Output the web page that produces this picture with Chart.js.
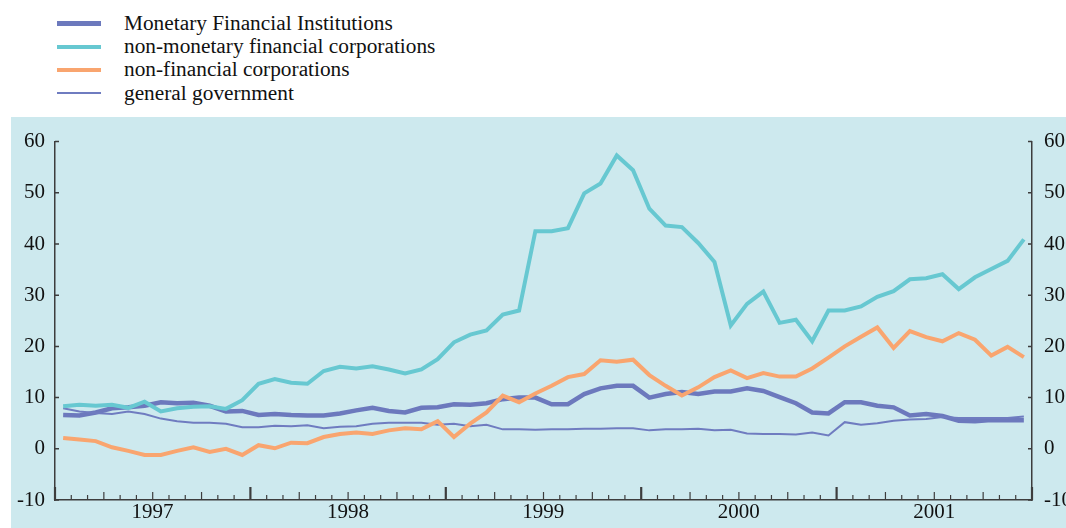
<!DOCTYPE html>
<html>
<head>
<meta charset="utf-8">
<script src="https://cdn.jsdelivr.net/npm/chart.js@4.4.1/dist/chart.umd.min.js"></script>
<style>
    body { margin: 0; background: #fff; width: 1066px; height: 528px; overflow: hidden; position: relative; font-family: "Liberation Serif", serif; }
    #panel { position: absolute; left: 11px; top: 117px; width: 1055px; height: 411px; background: #CDE9EE; }
    .key { position: absolute; left: 57px; width: 44px; }
    .lab { position: absolute; left: 124px; font-size: 20px; line-height: 24px; color: #111; white-space: nowrap; transform: scaleX(1.066); transform-origin: left center; }
</style>
</head>
<body>
<div id="legend"></div>
<div id="panel"><canvas id="growth"></canvas></div>
<script>
var years = [1997, 1998, 1999, 2000, 2001];
var months = ["01", "02", "03", "04", "05", "06", "07", "08", "09", "10", "11", "12"];
var yTicks = [-10, 0, 10, 20, 30, 40, 50, 60];

var seriesNames = [
    "Monetary Financial Institutions",
    "non-monetary financial corporations",
    "non-financial corporations",
    "general government"
];
var seriesColors = ["#6C79BD", "#67C8D1", "#F9A56F", "#6F7CC0"];
var seriesWidths = [4.5, 4, 4, 2];

var mfi = [6.6, 6.5, 7.1, 7.9, 8.1, 8.4, 9.1, 8.9, 9.0, 8.4, 7.3, 7.4,
    6.6, 6.8, 6.6, 6.5, 6.5, 6.9, 7.5, 8.0, 7.4, 7.1, 8.0, 8.1,
    8.7, 8.6, 8.9, 9.7, 10.0, 10.0, 8.7, 8.7, 10.7, 11.8, 12.3, 12.3,
    10.0, 10.7, 11.1, 10.7, 11.2, 11.2, 11.8, 11.3, 10.1, 8.9, 7.1, 6.9,
    9.1, 9.1, 8.4, 8.1, 6.5, 6.8, 6.4, 5.5, 5.4, 5.6, 5.6, 5.6];
var nonMonetary = [8.3, 8.6, 8.4, 8.6, 8.0, 9.2, 7.3, 7.9, 8.2, 8.3, 7.8, 9.5,
    12.7, 13.6, 12.9, 12.7, 15.2, 16.0, 15.7, 16.1, 15.5, 14.7, 15.5, 17.5,
    20.8, 22.3, 23.1, 26.2, 27.0, 42.5, 42.5, 43.1, 49.9, 51.8, 57.3, 54.4,
    46.9, 43.6, 43.3, 40.2, 36.5, 24.1, 28.3, 30.7, 24.6, 25.2, 21.0, 27.0,
    27.0, 27.8, 29.7, 30.8, 33.1, 33.3, 34.1, 31.2, 33.5, 35.1, 36.7, 40.9];
var nonFinancial = [2.1, 1.8, 1.5, 0.3, -0.4, -1.2, -1.2, -0.4, 0.3, -0.6, 0.0, -1.2,
    0.7, 0.1, 1.2, 1.1, 2.3, 2.9, 3.2, 2.9, 3.6, 4.0, 3.8, 5.4,
    2.3, 4.9, 7.1, 10.4, 9.1, 10.8, 12.3, 14.0, 14.6, 17.3, 17.0, 17.4,
    14.4, 12.3, 10.4, 12.0, 14.0, 15.3, 13.8, 14.8, 14.1, 14.1, 15.7, 17.8,
    20.0, 21.9, 23.7, 19.7, 23.0, 21.8, 21.0, 22.6, 21.3, 18.2, 19.9, 17.9];
var government = [7.9, 7.3, 7.0, 6.8, 7.3, 6.8, 5.9, 5.4, 5.1, 5.1, 4.9, 4.2,
    4.2, 4.5, 4.4, 4.6, 4.0, 4.3, 4.4, 4.9, 5.1, 5.1, 5.1, 4.7,
    4.9, 4.4, 4.7, 3.8, 3.8, 3.7, 3.8, 3.8, 3.9, 3.9, 4.0, 4.0,
    3.6, 3.8, 3.8, 3.9, 3.6, 3.7, 3.0, 2.9, 2.9, 2.8, 3.2, 2.6,
    5.2, 4.7, 5.0, 5.5, 5.7, 5.8, 6.2, 6.0, 6.0, 6.0, 6.0, 6.3];

var labels = [];
years.forEach(function (y) {
    months.forEach(function (m) { labels.push(y + "-" + m); });
});

// legend as plain html rows
var legend = document.getElementById("legend");
seriesNames.forEach(function (name, i) {
    var cy = 23.3 + i * 23.3;
    var key = document.createElement("div");
    key.className = "key";
    key.style.top = (cy - seriesWidths[i] / 2) + "px";
    key.style.height = seriesWidths[i] + "px";
    key.style.background = seriesColors[i];
    legend.appendChild(key);
    var lab = document.createElement("div");
    lab.className = "lab";
    lab.style.top = (cy - 12.5) + "px";
    lab.textContent = name;
    legend.appendChild(lab);
});

var axisColor = "#3d3d3d";
var tickFont = { family: "Liberation Serif", size: 21 };

// small tick marks drawn inside the frame, like the printed chart
var innerTicks = {
    id: "innerTicks",
    beforeDatasetsDraw: function (chart) {
        var ctx = chart.ctx;
        var area = chart.chartArea;
        var x = chart.scales.x;
        var y = chart.scales.y;
        ctx.save();
        ctx.strokeStyle = axisColor;
        yTicks.forEach(function (v) {
            var py = y.getPixelForValue(v);
            ctx.lineWidth = 1.5;
            ctx.beginPath();
            ctx.moveTo(area.left, py);
            ctx.lineTo(area.left + 4, py);
            ctx.moveTo(area.right, py);
            ctx.lineTo(area.right - 4, py);
            ctx.stroke();
        });
        var step = x.getPixelForValue(1) - x.getPixelForValue(0);
        for (var i = 0; i <= labels.length; i++) {
            var px = i < labels.length ? x.getPixelForValue(i) - step / 2 : x.getPixelForValue(i - 1) + step / 2;
            var len = i % 12 === 0 ? 13 : (i % 3 === 0 ? 8 : 5);
            ctx.lineWidth = i % 12 === 0 ? 2.2 : 1.2;
            ctx.beginPath();
            ctx.moveTo(px, area.bottom);
            ctx.lineTo(px, area.bottom - len);
            ctx.stroke();
        }
        ctx.restore();
    }
};

var allSeries = [mfi, nonMonetary, nonFinancial, government];
var drawOrder = [3, 1, 0, 2];

new Chart("growth", {
    type: "line",
    data: {
        labels: labels,
        datasets: allSeries.map(function (vals, i) {
            return {
                label: seriesNames[i],
                data: vals,
                borderColor: seriesColors[i],
                borderWidth: seriesWidths[i],
                pointRadius: 0,
                tension: 0,
                fill: false,
                order: drawOrder[i],
                yAxisID: "y"
            };
        })
    },
    options: {
        responsive: true,
        maintainAspectRatio: false,
        animation: false,
        layout: { padding: { top: 22, left: 0, right: 0, bottom: 0 } },
        plugins: { legend: { display: false }, tooltip: { enabled: false } },
        scales: {
            x: {
                type: "category",
                offset: true,
                grid: { display: false, drawTicks: false },
                border: { display: true, color: axisColor, width: 1.5 },
                ticks: {
                    autoSkip: false,
                    maxRotation: 0,
                    padding: 0,
                    labelOffset: 8,
                    color: "#111",
                    font: tickFont,
                    callback: function (val, idx) {
                        return idx % 12 === 5 ? labels[idx].slice(0, 4) : "";
                    }
                },
                afterFit: function (scale) { scale.height = 28; }
            },
            y: {
                position: "left",
                min: -10,
                max: 60,
                grid: { display: false, drawTicks: false },
                border: { display: true, color: axisColor, width: 1.5 },
                ticks: { stepSize: 10, padding: 10, color: "#111", font: tickFont },
                afterFit: function (scale) { scale.width = 44; }
            },
            y2: {
                position: "right",
                min: -10,
                max: 60,
                grid: { display: false, drawTicks: false },
                border: { display: true, color: axisColor, width: 1.5 },
                ticks: { stepSize: 10, padding: 12, color: "#111", font: tickFont },
                afterFit: function (scale) { scale.width = 34; }
            }
        }
    },
    plugins: [innerTicks]
});
</script>
</body>
</html>
